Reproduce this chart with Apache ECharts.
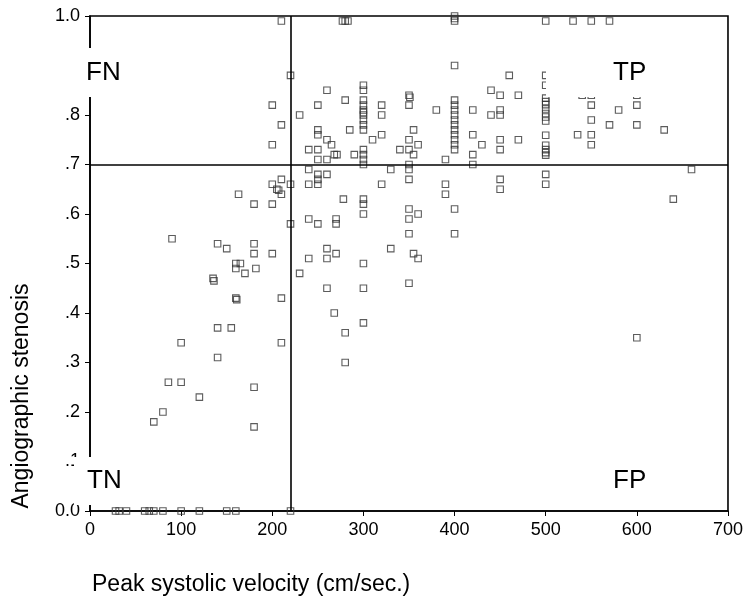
<!DOCTYPE html>
<html>
<head>
<meta charset="utf-8">
<script src="https://cdn.jsdelivr.net/npm/echarts@6/dist/echarts.min.js"></script>
<style>
  html, body { margin: 0; padding: 0; background: #fff; }
  #chart { width: 746px; height: 604px; }
</style>
</head>
<body>
<div id="chart"></div>
<script>
// [peak systolic velocity, angiographic stenosis], grouped by quadrant
const tnPoints = [
  [28, 0], [32, 0], [40, 0], [60, 0], [65, 0], [70, 0], [80, 0], [100, 0], [120, 0], [150, 0], [160, 0],
  [70, 0.18], [80, 0.20], [86, 0.26], [100, 0.26], [120, 0.23], [140, 0.31], [180, 0.25], [180, 0.17],
  [90, 0.55], [100, 0.34], [140, 0.54], [150, 0.53], [140, 0.37], [155, 0.37], [135, 0.47], [136, 0.465],
  [160, 0.43], [161, 0.427], [160, 0.50], [165, 0.50], [160, 0.49], [170, 0.48], [180, 0.54], [180, 0.52],
  [182, 0.49], [180, 0.62], [200, 0.62], [200, 0.52], [210, 0.43], [210, 0.34], [163, 0.64],
  [200, 0.66], [205, 0.65], [207, 0.648], [210, 0.64], [210, 0.67]
]
const fnPoints = [[210, 0.99], [200, 0.82], [210, 0.78], [200, 0.74]]
const fpPoints = [
  [220, 0], [220, 0.66], [220, 0.58],
  [230, 0.48], [240, 0.66], [250, 0.66], [240, 0.59], [250, 0.58], [270, 0.59], [270, 0.58], [278, 0.63],
  [240, 0.51], [260, 0.53], [260, 0.51], [270, 0.52], [260, 0.45], [268, 0.40], [280, 0.36], [280, 0.30],
  [240, 0.69], [250, 0.68], [260, 0.68], [250, 0.67],
  [300, 0.63], [300, 0.62], [300, 0.60], [300, 0.50], [300, 0.45], [300, 0.38],
  [320, 0.66], [330, 0.69], [350, 0.67], [350, 0.69], [350, 0.61], [360, 0.60], [350, 0.59], [350, 0.56],
  [330, 0.53], [355, 0.52], [360, 0.51], [350, 0.46],
  [390, 0.66], [390, 0.64], [400, 0.61], [400, 0.56], [450, 0.67], [450, 0.65], [500, 0.68], [500, 0.66],
  [600, 0.35], [640, 0.63], [660, 0.69]
]
const tpPoints = [
  [220, 0.88], [230, 0.80], [260, 0.85], [250, 0.82], [280, 0.83], [250, 0.77], [250, 0.76], [260, 0.75],
  [265, 0.74], [268, 0.72], [271, 0.72], [240, 0.73], [250, 0.73], [250, 0.71], [260, 0.71], [285, 0.77],
  [290, 0.72], [277, 0.99], [280, 0.99], [283, 0.99],
  [300, 0.86], [300, 0.85], [300, 0.83], [300, 0.82], [300, 0.81], [300, 0.805], [300, 0.80], [300, 0.79],
  [300, 0.78], [300, 0.77], [300, 0.73], [300, 0.72], [300, 0.71], [300, 0.70],
  [310, 0.75], [320, 0.82], [320, 0.80], [320, 0.76], [350, 0.84], [351, 0.836], [350, 0.82], [355, 0.77],
  [350, 0.75], [360, 0.74], [340, 0.73], [350, 0.73], [355, 0.72], [350, 0.70],
  [380, 0.81], [390, 0.71], [400, 1.0], [400, 0.995], [400, 0.99], [400, 0.90], [400, 0.83], [400, 0.82],
  [400, 0.81], [400, 0.80], [400, 0.79], [400, 0.78], [400, 0.77], [400, 0.76], [400, 0.75], [400, 0.74], [400, 0.73],
  [420, 0.81], [420, 0.76], [420, 0.72], [420, 0.70], [430, 0.74], [440, 0.85], [440, 0.80], [450, 0.84],
  [450, 0.81], [450, 0.80], [450, 0.75], [450, 0.73], [460, 0.88], [470, 0.84], [470, 0.75],
  [500, 0.99], [500, 0.88], [500, 0.86], [500, 0.834], [500, 0.827], [500, 0.821], [500, 0.812], [500, 0.803],
  [500, 0.796], [500, 0.788], [500, 0.759], [500, 0.739], [500, 0.73], [500, 0.724], [500, 0.719],
  [530, 0.99], [550, 0.99], [570, 0.99], [540, 0.84], [550, 0.84], [550, 0.82], [550, 0.79], [535, 0.76],
  [550, 0.76], [550, 0.74], [580, 0.81], [570, 0.78], [600, 0.84], [600, 0.82], [600, 0.78], [630, 0.77]
]
const velocityCutoff = 220
const stenosisCutoff = 0.7

const font = 'Liberation Sans, Arial, sans-serif'
const chart = echarts.init(document.getElementById('chart'))

function quadBox(x, y, w, h) {
  return { type: 'rect', z: 100, shape: { x: x, y: y, width: w, height: h }, style: { fill: '#fff' } }
}
function quadText(text, x, y) {
  return {
    type: 'text', z: 101, x: x, y: y,
    style: { text: text, fontSize: 26, fontFamily: font, fill: '#000', textVerticalAlign: 'middle' }
  }
}

const option = {
  animation: false,
  grid: { left: 90, right: 18, top: 16, bottom: 93, show: true, borderColor: '#000', borderWidth: 1.6 },
  xAxis: {
    type: 'value', min: 0, max: 700, interval: 100,
    axisLine: { show: true, lineStyle: { color: '#000', width: 1.6 } },
    axisTick: { show: true, length: 5, lineStyle: { color: '#000' } },
    axisLabel: { color: '#000', fontSize: 18, fontFamily: font, margin: 10 },
    splitLine: { show: false }
  },
  yAxis: {
    type: 'value', min: 0, max: 1, interval: 0.1,
    axisLine: { show: true, lineStyle: { color: '#000', width: 1.6 } },
    axisTick: { show: true, length: 5, lineStyle: { color: '#000' } },
    axisLabel: {
      color: '#000', fontSize: 18, fontFamily: font, margin: 10,
      formatter: function(v) {
        if (v === 0) return '0.0'
        if (Math.abs(v - 1) < 1e-9) return '1.0'
        return '.' + Math.round(v * 10)
      }
    },
    splitLine: { show: false }
  },
  series: [{
    type: 'scatter',
    symbol: 'rect',
    symbolSize: 6.5,
    data: [].concat(tnPoints, fnPoints, fpPoints, tpPoints),
    itemStyle: { color: 'rgba(0,0,0,0)', borderColor: '#333', borderWidth: 1.1 },
    markLine: {
      silent: true,
      symbol: ['none', 'none'],
      label: { show: false },
      lineStyle: { color: '#000', width: 1.6, type: 'solid' },
      data: [{ xAxis: velocityCutoff }, { yAxis: stenosisCutoff }]
    }
  }],
  graphic: [
    quadBox(66, 48, 56, 49),
    quadBox(546, 48, 114, 49),
    quadBox(74, 457, 48, 48),
    quadText('FN', 86, 73),
    quadText('TP', 613, 73),
    quadText('TN', 87, 481),
    quadText('FP', 613, 481),
    {
      type: 'text', z: 101, x: 22, y: 396, rotation: Math.PI / 2,
      style: { text: 'Angiographic stenosis', fontSize: 23, fontFamily: font, fill: '#000', textAlign: 'center', textVerticalAlign: 'middle' }
    },
    {
      type: 'text', z: 101, x: 92, y: 585,
      style: { text: 'Peak systolic velocity (cm/sec.)', fontSize: 23, fontFamily: font, fill: '#000', textVerticalAlign: 'middle' }
    }
  ]
}
chart.setOption(option)
</script>
</body>
</html>
